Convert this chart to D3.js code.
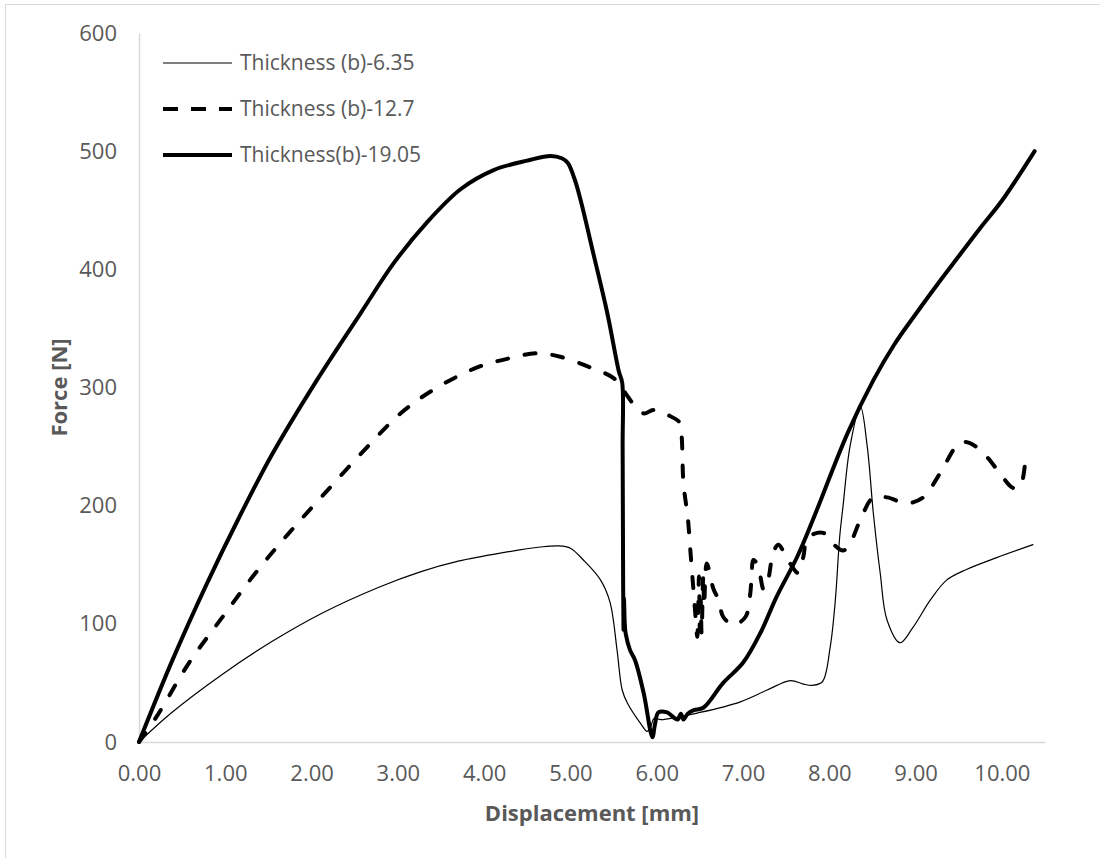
<!DOCTYPE html>
<html>
<head>
<meta charset="utf-8">
<title>Force vs Displacement</title>
<style>
body { margin: 0; background: #fff; }
text { font-family: "Open Sans", sans-serif; fill: #595959; }
.axis-line { stroke: #d9d9d9; stroke-width: 1.5; }
</style>
</head>
<body>
<script src="https://d3js.org/d3.v7.min.js"></script>
<script>

// Data: [displacement mm, force N]
var thin635 = [
  [0,0],[0.38,25],[0.96,57],[1.54,85],[2.12,109],[2.78,131],[3.26,144],[3.7,153],
  [4.2,160],[4.65,165],[4.86,166],[5.0,164],[5.15,154],[5.35,137],[5.46,118],
  [5.54,78],[5.60,44],[5.66,33],[5.81,16],[5.89,9],[5.93,13],[5.97,20],[6.05,19],
  [6.5,25],[6.97,34],[7.28,44],[7.55,52],[7.7,49],[7.81,48],[7.92,51],[8.01,80],
  [8.07,120],[8.12,173],[8.16,200],[8.24,250],[8.36,284],[8.44,250],[8.51,194],
  [8.59,143],[8.67,103],[8.82,84],[8.97,97],[9.17,120],[9.36,137],[9.59,146],
  [9.94,156],[10.36,167]
];

var dash127 = [
  [0,0],[0.2,21],[0.58,67],[0.96,105],[1.35,143],[1.74,177],[2.16,211],[2.65,250],
  [3.03,278],[3.41,298],[3.92,317],[4.31,325],[4.62,329],[4.88,326],[5.23,317],
  [5.50,308],[5.61,298],[5.72,287],[5.85,278],[5.96,281],[6.12,277],[6.27,270],
  [6.29,258],[6.31,219],[6.36,190],[6.39,162],[6.42,134],[6.45,106],[6.47,89],
  [6.49,140],[6.50,95],[6.51,120],[6.52,92],[6.54,142],[6.55,115],[6.58,151],
  [6.66,129],[6.72,120],[6.77,106],[6.89,99],[7.03,106],[7.08,123],[7.10,140],
  [7.12,154],[7.17,150],[7.24,129],[7.29,137],[7.35,160],[7.41,167],[7.52,154],
  [7.64,143],[7.70,157],[7.75,173],[7.93,177],[8.04,168],[8.16,162],[8.24,168],
  [8.36,188],[8.51,207],[8.67,207],[8.90,202],[9.09,207],[9.28,227],[9.51,253],
  [9.63,253],[9.83,241],[9.98,227],[10.13,215],[10.21,216],[10.27,237]
];

var thick1905 = [
  [0,0],[0.38,68],[0.78,133],[1.16,190],[1.54,243],[2.06,306],[2.57,363],[2.95,405],
  [3.34,440],[3.73,468],[4.11,484],[4.50,492],[4.77,496],[4.90,494],[4.97,490],
  [5.05,476],[5.12,458],[5.27,412],[5.43,362],[5.56,314],[5.60,304],[5.605,250],
  [5.61,150],[5.615,95],[5.62,122],[5.63,100],[5.64,92],[5.69,78],[5.75,69],
  [5.85,41],[5.95,4],[5.98,15],[6.02,25],[6.12,25],[6.24,19],[6.28,24],[6.31,19],
  [6.36,24],[6.43,27],[6.54,29],[6.77,50],[7.00,67],[7.20,92],[7.39,123],[7.63,157],
  [7.81,188],[8.21,261],[8.51,306],[8.75,336],[9.0,362],[9.25,387],[9.5,411],
  [9.75,435],[10.0,458],[10.38,500]
];

var seriesNames = ["Thickness (b)-6.35", "Thickness (b)-12.7", "Thickness(b)-19.05"];
var xTicks = [0,1,2,3,4,5,6,7,8,9,10];
var yTicks = [0,100,200,300,400,500,600];

// Set graph margins and dimensions
var margin = {top: 33, right: 55, bottom: 116, left: 139},
    width = 1100 - margin.left - margin.right,
    height = 858 - margin.top - margin.bottom;

var x = d3.scaleLinear().domain([0, 10.5]).range([0, width]);
var y = d3.scaleLinear().domain([0, 600]).range([height, 0]);

var root = d3.select("body").append("svg")
    .attr("width", 1100)
    .attr("height", 858);

// chart frame
root.append("rect")
    .attr("x", 5.5).attr("y", 4.5)
    .attr("width", 1100).attr("height", 870)
    .attr("fill", "none")
    .attr("stroke", "#d9d9d9");

var svg = root.append("g")
    .attr("transform", "translate(" + margin.left + "," + margin.top + ")");

// axes
var xAxis = svg.append("g")
    .attr("transform", "translate(0," + height + ")")
    .call(d3.axisBottom(x).tickValues(xTicks).tickSize(0).tickPadding(0)
      .tickFormat(d3.format(".2f")));
var yAxis = svg.append("g")
    .call(d3.axisLeft(y).tickValues(yTicks).tickSize(0).tickPadding(22));

[xAxis, yAxis].forEach(function(a) {
  a.select(".domain").attr("class", "axis-line");
  a.selectAll("text")
    .style("font-family", "'Open Sans', sans-serif")
    .style("font-size", "22px")
    .attr("fill", "#595959");
});
xAxis.selectAll("text").attr("y", 31).attr("dy", "0.35em");

// axis titles
svg.append("text")
    .attr("x", width / 2)
    .attr("y", height + 79)
    .attr("text-anchor", "middle")
    .style("font-size", "22px")
    .style("font-weight", "bold")
    .text("Displacement [mm]");

svg.append("text")
    .attr("transform", "translate(-80," + (height / 2) + ") rotate(-90)")
    .attr("text-anchor", "middle")
    .attr("dy", "0.35em")
    .style("font-size", "22px")
    .style("font-weight", "bold")
    .text("Force [N]");

var line = d3.line()
    .x(function(d) { return x(d[0]); })
    .y(function(d) { return y(d[1]); })
    .curve(d3.curveCatmullRom.alpha(0.5));

var styles = [
  {w: 1.2, dash: null},
  {w: 4, dash: "11,17"},
  {w: 4, dash: null}
];
var allSeries = [thin635, dash127, thick1905];

allSeries.forEach(function(data, i) {
  svg.append("path")
      .datum(data)
      .attr("d", line)
      .attr("fill", "none")
      .attr("stroke", "#000")
      .attr("stroke-width", styles[i].w)
      .attr("stroke-linecap", "round")
      .attr("stroke-linejoin", "round")
      .attr("stroke-dasharray", styles[i].dash);
});

// legend
var legend = root.append("g").attr("transform", "translate(163,63)");
seriesNames.forEach(function(name, i) {
  var row = legend.append("g").attr("transform", "translate(0," + (i * 46) + ")");
  row.append("line")
      .attr("x1", 0).attr("x2", 69)
      .attr("stroke", "#000")
      .attr("stroke-width", styles[i].w)
      .attr("stroke-dasharray", styles[i].dash ? "15,13" : null);
  row.append("text")
      .attr("x", 77)
      .attr("dy", "0.35em")
      .style("font-size", "21px")
      .text(name);
});

</script>
</body>
</html>
